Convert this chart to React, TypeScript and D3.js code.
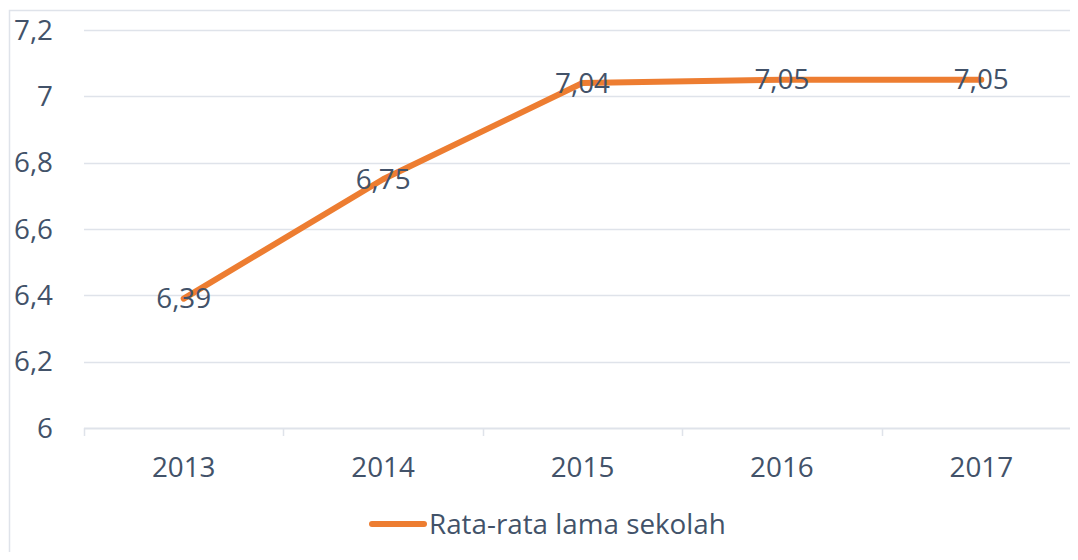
import { useEffect, useRef } from 'react';
import * as d3 from 'd3';

const years = ['2013', '2014', '2015', '2016', '2017'];
const values = [6.39, 6.75, 7.04, 7.05, 7.05];
const yTicks = [6, 6.2, 6.4, 6.6, 6.8, 7, 7.2];
const seriesName = 'Rata-rata lama sekolah';

export default function App() {
  const svgRef = useRef<SVGSVGElement>(null);

  useEffect(() => {
    if (!svgRef.current) return;
    d3.select(svgRef.current).selectAll('*').remove();

    const width = 1078;
    const height = 560;
    const font = '"Open Sans", sans-serif';
    const fontSize = '27.8px';
    const textColor = '#425269';
    const gridColor = '#dfe3ea';
    const lineColor = '#ed7d31';

    const svg = d3.select(svgRef.current)
      .attr('width', width)
      .attr('height', height)
      .style('display', 'block');

    // chart border
    svg.append('rect')
      .attr('x', 9.5)
      .attr('y', 10.5)
      .attr('width', 1067)
      .attr('height', 600)
      .attr('fill', '#fff')
      .attr('stroke', gridColor)
      .attr('stroke-width', 1.5);

    const x = d3.scaleBand<string>()
      .domain(years)
      .range([84, 1081]);

    const y = d3.scaleLinear()
      .domain([6, 7.2])
      .range([428, 30]);

    // gridlines
    svg.append('g')
      .selectAll('line')
      .data(yTicks.slice(1))
      .join('line')
      .attr('x1', 84)
      .attr('x2', 1076)
      .attr('y1', d => Math.round(y(d)) + 0.5)
      .attr('y2', d => Math.round(y(d)) + 0.5)
      .attr('stroke', gridColor)
      .attr('stroke-width', 1.5);

    // y labels
    svg.append('g')
      .selectAll('text')
      .data(yTicks)
      .join('text')
      .attr('x', 53)
      .attr('y', d => y(d))
      .attr('dy', '0.35em')
      .attr('text-anchor', 'end')
      .style('font-family', font)
      .style('font-size', fontSize)
      .style('fill', textColor)
      .text(d => String(d).replace('.', ','));

    // x axis
    const xAxis = svg.append('g');
    xAxis.append('line')
      .attr('x1', 84)
      .attr('x2', 1078)
      .attr('y1', 428.5)
      .attr('y2', 428.5)
      .attr('stroke', gridColor)
      .attr('stroke-width', 2);
    const boundaries = years.map(d => x(d) as number).concat([x.range()[1]]);
    xAxis.selectAll('line.tick')
      .data(boundaries)
      .join('line')
      .attr('class', 'tick')
      .attr('x1', d => Math.round(d) + 0.5)
      .attr('x2', d => Math.round(d) + 0.5)
      .attr('y1', 428)
      .attr('y2', 436)
      .attr('stroke', gridColor)
      .attr('stroke-width', 1.5);
    xAxis.selectAll('text')
      .data(years)
      .join('text')
      .attr('x', d => (x(d) as number) + x.bandwidth() / 2)
      .attr('y', 467)
      .attr('dy', '0.35em')
      .attr('text-anchor', 'middle')
      .style('font-family', font)
      .style('font-size', fontSize)
      .style('fill', textColor)
      .text(d => d);

    // line
    const line = d3.line<number>()
      .x((_, i) => (x(years[i]) as number) + x.bandwidth() / 2)
      .y(d => y(d));

    svg.append('path')
      .datum(values)
      .attr('d', line)
      .attr('fill', 'none')
      .attr('stroke', lineColor)
      .attr('stroke-width', 6)
      .attr('stroke-linecap', 'round')
      .attr('stroke-linejoin', 'round');

    // data labels
    svg.append('g')
      .selectAll('text')
      .data(values)
      .join('text')
      .attr('x', (_, i) => (x(years[i]) as number) + x.bandwidth() / 2)
      .attr('y', d => y(d))
      .attr('dy', '0.35em')
      .attr('text-anchor', 'middle')
      .style('font-family', font)
      .style('font-size', fontSize)
      .style('fill', textColor)
      .text(d => d.toFixed(2).replace('.', ','));

    // legend
    const legend = svg.append('g');
    legend.append('line')
      .attr('x1', 372)
      .attr('x2', 424)
      .attr('y1', 524)
      .attr('y2', 524)
      .attr('stroke', lineColor)
      .attr('stroke-width', 6)
      .attr('stroke-linecap', 'round');
    legend.append('text')
      .attr('x', 429)
      .attr('y', 524)
      .attr('dy', '0.35em')
      .style('font-family', font)
      .style('font-size', fontSize)
      .style('fill', textColor)
      .text(seriesName);
  }, []);

  return (
    <div style={{ margin: -8 }}>
      <svg ref={svgRef}></svg>
    </div>
  );
}
